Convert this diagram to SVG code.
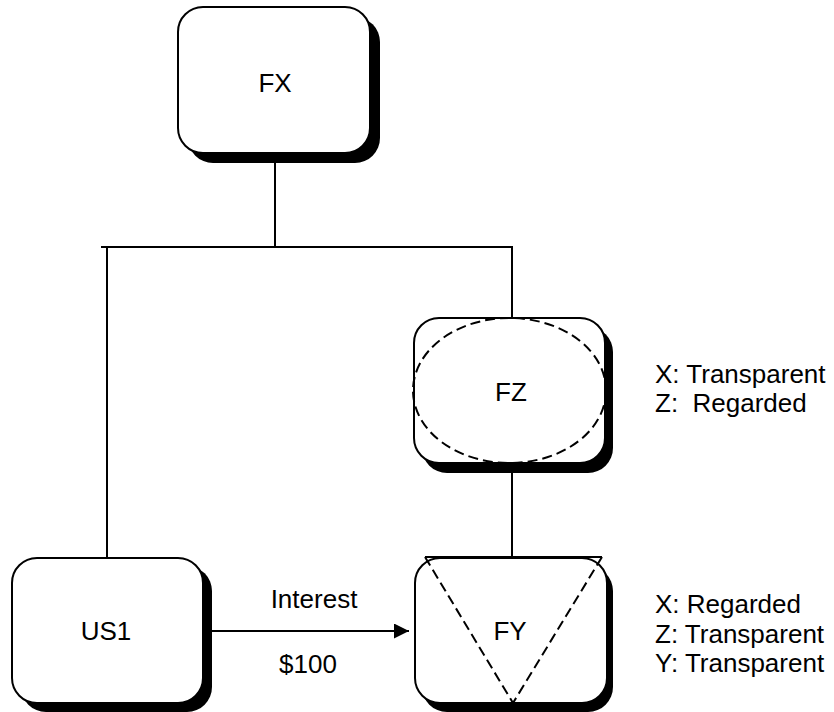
<svg xmlns="http://www.w3.org/2000/svg" width="834" height="712" viewBox="0 0 834 712">
<style>
.shadow{fill:#000}
.box{fill:#fff;stroke:#000;stroke-width:2}
.lbl{font-family:"Liberation Sans",Arial,sans-serif;font-size:26px;fill:#000}
.c{text-anchor:middle}
.ln{stroke:#000;stroke-width:2;fill:none}
.dash{stroke:#000;stroke-width:2;fill:none;stroke-dasharray:10 5}
</style>
<defs>
<marker id="arr" markerWidth="16" markerHeight="16" refX="15" refY="7.5" orient="auto" markerUnits="userSpaceOnUse">
<path d="M0,0 L15,7.5 L0,15 Z" fill="#000"/>
</marker>
</defs>
<rect width="834" height="712" fill="#fff"/>
<g id="connectors">
<line class="ln" x1="275" y1="163" x2="275" y2="247"/>
<line class="ln" x1="101" y1="247" x2="513" y2="247"/>
<line class="ln" x1="107" y1="247" x2="107" y2="558"/>
<line class="ln" x1="512" y1="247" x2="512" y2="318"/>
<line class="ln" x1="512" y1="473" x2="512" y2="557"/>
<line class="ln" x1="212" y1="631" x2="409" y2="631" marker-end="url(#arr)"/>
<text class="lbl c" x="314" y="608">Interest</text>
<text class="lbl c" x="308" y="673">$100</text>
</g>
<g id="FX">
<rect class="shadow" x="188" y="17" width="192" height="146" rx="25"/>
<rect class="box" x="178" y="7" width="192" height="146" rx="25"/>
<text class="lbl c" x="275" y="92">FX</text>
</g>
<g id="FZ">
<rect class="shadow" x="422" y="327" width="191" height="146" rx="25"/>
<rect class="box" x="414" y="318" width="191" height="145" rx="25"/>
<ellipse class="dash" cx="509.5" cy="390.5" rx="96.5" ry="72.5"/>
<text class="lbl c" x="511" y="401">FZ</text>
</g>
<g id="FY">
<rect class="shadow" x="422" y="566" width="191" height="146" rx="25"/>
<rect class="box" x="415" y="558" width="192" height="145" rx="25"/>
<line class="ln" x1="425" y1="557" x2="602" y2="557"/>
<line class="dash" x1="425" y1="557" x2="513" y2="703"/>
<line class="dash" x1="602" y1="557" x2="513" y2="703"/>
<text class="lbl c" x="510" y="640">FY</text>
</g>
<g id="US1">
<rect class="shadow" x="21" y="566" width="191" height="146" rx="25"/>
<rect class="box" x="12" y="558" width="191" height="145" rx="25"/>
<text class="lbl c" x="106" y="640">US1</text>
</g>
<g id="note-FZ">
<text class="lbl" x="655" y="383">X: Transparent</text>
<text class="lbl" x="655" y="412" xml:space="preserve">Z:  Regarded</text>
</g>
<g id="note-FY">
<text class="lbl" x="655" y="613">X: Regarded</text>
<text class="lbl" x="655" y="643">Z: Transparent</text>
<text class="lbl" x="655" y="672">Y: Transparent</text>
</g>
</svg>
